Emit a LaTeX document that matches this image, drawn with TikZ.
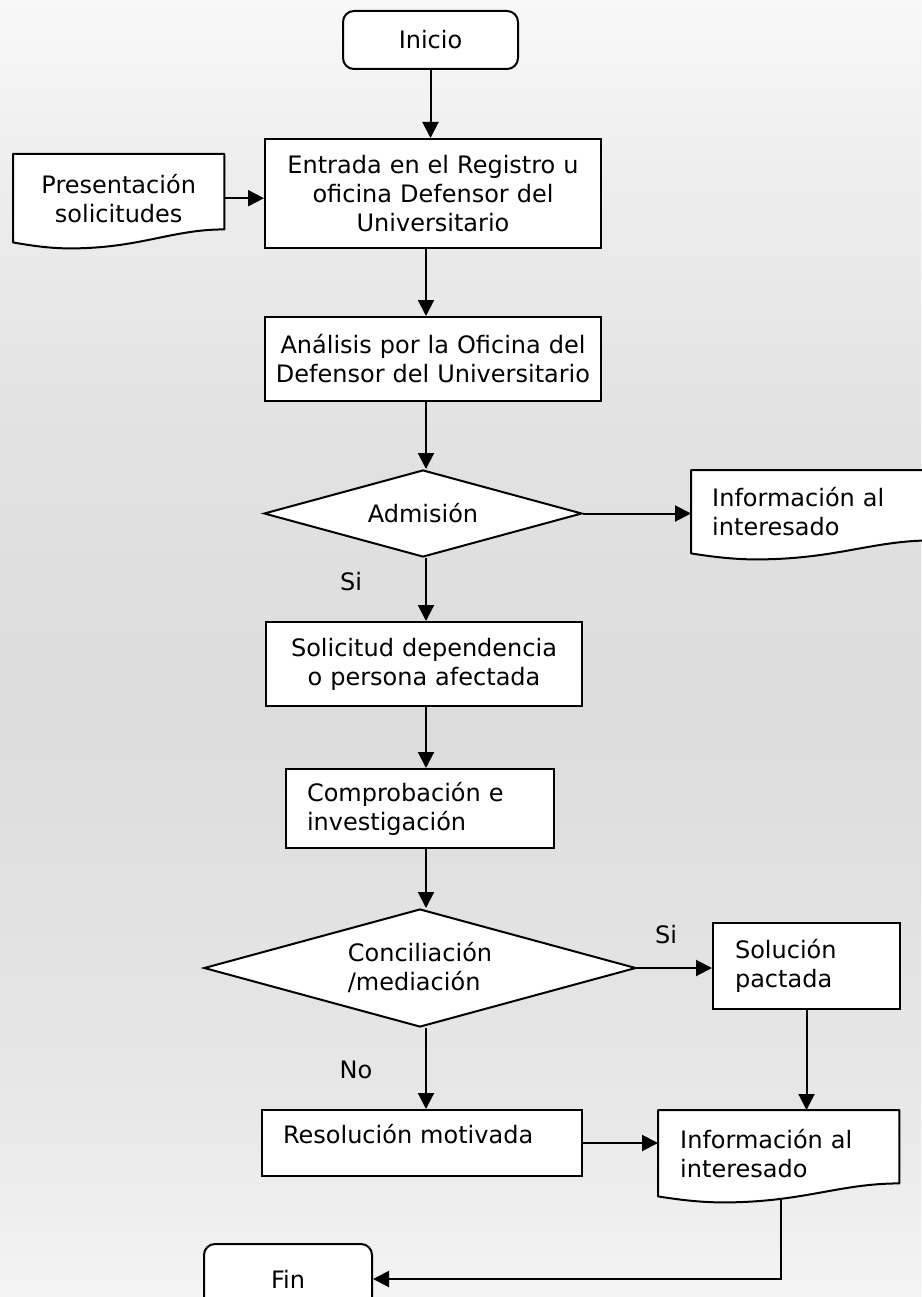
\documentclass[tikz,border=0pt]{standalone}
\usepackage{fontspec}
\setmainfont{DejaVu Sans}
\usetikzlibrary{arrows.meta,shapes.geometric,calc}
\pgfdeclarelayer{bg}
\pgfdeclarelayer{back}
\pgfsetlayers{bg,back,main}
\definecolor{bgA}{HTML}{F4F4F4}
\definecolor{bgB}{HTML}{E7E7E7}
\definecolor{bgC}{HTML}{DCDCDC}
\definecolor{bgD}{HTML}{E3E3E3}
\definecolor{bgE}{HTML}{ECECEC}
\definecolor{bgF}{HTML}{F8F8F8}
\pgfdeclareverticalshading{bgshade}{100bp}{color(0bp)=(bgA); color(25bp)=(bgA); color(32.6bp)=(bgB); color(48bp)=(bgC); color(59.6bp)=(bgD); color(67.3bp)=(bgE); color(75bp)=(bgF); color(100bp)=(bgF)}
\newcommand\docoutline[1]{%
  \path[docline] (#1.north west) -- (#1.north east) -- ($(#1.south east)+(0,-13)$)
   .. controls ($(#1.south west)!0.75!(#1.south east)+(0,-13)$) and ($(#1.south west)!0.6!(#1.south east)+(0,6)$) .. ($(#1.south west)!0.27!(#1.south east)+(0,6)$)
   .. controls ($(#1.south west)!0.17!(#1.south east)+(0,6)$) and ($(#1.south west)!0.08!(#1.south east)+(0,3)$) .. (#1.south west) -- cycle;}
\begin{document}
\begin{tikzpicture}[x=1pt,y=-1pt,
  every node/.style={font=\fontsize{24pt}{29pt}\selectfont, inner sep=0pt},
  ln/.style={line width=2pt},
  arr/.style={ln,-{Triangle[length=16pt,width=16pt]}},
  box/.style={draw,ln,fill=white,rectangle,align=center},
  lbox/.style={box,align=left},
  term/.style={box,rounded corners=11pt},
  dec/.style={draw,ln,fill=white,diamond,aspect=3.66},
  docnode/.style={rectangle,align=left,anchor=north west},
  docline/.style={draw,ln,fill=white,line join=round},
  lbl/.style={}]
\begin{pgfonlayer}{bg}
\shade[shading=bgshade] (0,0) rectangle (921,1297);
\end{pgfonlayer}
\useasboundingbox (0,0) rectangle (921,1297);
\coordinate (spine) at (426,0);

\node[term, minimum width=175pt, minimum height=58pt] (inicio) at (430.5,40) {Inicio};
\node[box, minimum width=336pt, minimum height=109pt, text width=336pt] (entrada) at (433,193.5) {Entrada en el Registro u\\oficina Defensor del\\Universitario};
\node[docnode, minimum width=211pt, minimum height=88pt, align=center, text width=211pt] (pres) at (13,154) {Presentación\\solicitudes};
\node[box, minimum width=336pt, minimum height=84pt, text width=336pt] (analisis) at (433,359) {Análisis por la Oficina del\\Defensor del Universitario};
\node[dec, minimum width=318pt, minimum height=87pt] (admision) at (423,513.5) {Admisión};
\node[docnode, minimum width=241pt, minimum height=83pt, inner xsep=21pt, text width=199pt] (info1) at (691,470) {Información al\\interesado};
\node[lbl] (si1) at (351,582) {Si};
\node[box, minimum width=316pt, minimum height=84pt, text width=316pt] (solicitud) at (424,664) {Solicitud dependencia\\o persona afectada};
\node[lbox, minimum width=268pt, minimum height=79pt, inner xsep=21pt, text width=226pt] (comprob) at (420,808.5) {Comprobación e\\investigación};
\node[dec, minimum width=432pt, minimum height=118pt, align=left] (conc) at (420,968) {Conciliación\\/mediación};
\node[lbl] (si2) at (666,935) {Si};
\node[lbox, minimum width=187pt, minimum height=86pt, inner xsep=22pt, text width=143pt] (solucion) at (806.5,966) {Solución\\pactada};
\node[lbl] (no) at (356,1070) {No};
\node[lbox, minimum width=320pt, minimum height=66pt, inner xsep=21pt, text width=278pt, text depth=19pt] (resol) at (422,1143) {Resolución motivada};
\node[docnode, minimum width=241pt, minimum height=86pt, inner xsep=22pt, text width=197pt] (info2) at (658,1110) {Información al\\interesado};
\node[term, minimum width=168pt, minimum height=70pt, anchor=north] (fin) at (288,1243) {Fin};

\begin{pgfonlayer}{back}
\docoutline{pres}
\docoutline{info1}
\docoutline{info2}
\end{pgfonlayer}

\coordinate (info2out) at (781,1199);
\draw[arr] (inicio.south) -- (inicio.south |- entrada.north);
\draw[arr] (pres.east) -- (pres.east -| entrada.west);
\draw[arr] (entrada.south -| spine) -- (analisis.north -| spine);
\draw[arr] (analisis.south -| spine) -- (admision.north -| spine);
\draw[arr] (admision.east) -- (admision.east -| info1.west);
\draw[arr] (admision.south -| spine) -- (solicitud.north -| spine);
\draw[arr] (solicitud.south -| spine) -- (comprob.north -| spine);
\draw[arr] (comprob.south -| spine) -- (conc.north -| spine);
\draw[arr] (conc.east) -- (conc.east -| solucion.west);
\draw[arr] (solucion.south) -- (solucion.south |- info2.north);
\draw[arr] (conc.south -| spine) -- (resol.north -| spine);
\draw[arr] (resol.east) -- (resol.east -| info2.west);
\draw[arr] (info2out) |- (fin.east);
\end{tikzpicture}
\end{document}
